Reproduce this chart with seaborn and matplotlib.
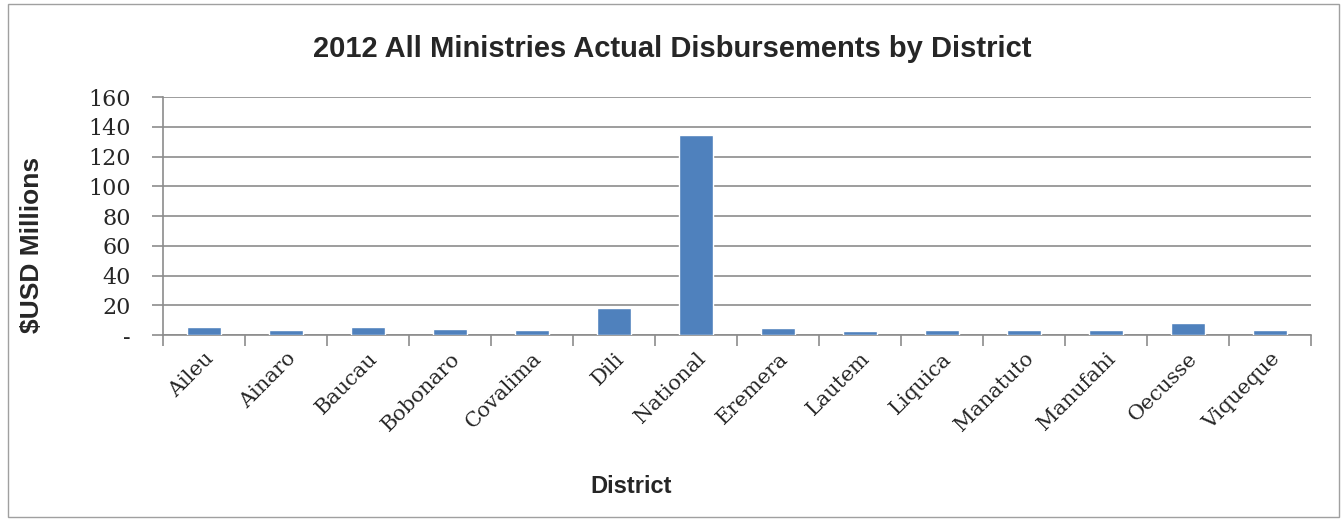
import pandas as pd
import seaborn as sns
import matplotlib.pyplot as plt
from matplotlib.patches import Rectangle

# Data ($USD millions)
districts = ['Aileu', 'Ainaro', 'Baucau', 'Bobonaro', 'Covalima', 'Dili', 'National',
             'Eremera', 'Lautem', 'Liquica', 'Manatuto', 'Manufahi', 'Oecusse', 'Viqueque']
disbursed = [5.6, 3.4, 5.4, 4.2, 3.4, 18.4, 134.5, 4.9, 2.9, 3.6, 3.6, 3.6, 8.3, 3.1]
ytick_values = [0, 20, 40, 60, 80, 100, 120, 140, 160]
ytick_labels = ['-', '20', '40', '60', '80', '100', '120', '140', '160']

data = pd.DataFrame({'District': districts, 'Value': disbursed})

sns.set_style('white')
fig = plt.figure(figsize=(13.44, 5.21), dpi=100)
ax = fig.add_axes([0.1213, 0.357, 0.8541, 0.4568])

sns.barplot(data=data, x='District', y='Value', color='#4F81BD', width=0.42,
            saturation=1, ax=ax, zorder=3)

# axes and grid
ax.set_ylim(0, 160)
ax.set_xlim(-0.5, len(districts) - 0.5)
ax.set_yticks(ytick_values)
ax.set_yticklabels(ytick_labels, family='DejaVu Serif', fontsize=16)
ax.yaxis.grid(True, color='#8c8c8c', linewidth=1.2, zorder=0)
ax.tick_params(axis='y', length=8, color='#8c8c8c', width=1.2, pad=15, left=True)
ax.set_xticks(range(len(districts)))
ax.set_xticklabels(districts, rotation=45, ha='right', rotation_mode='anchor',
                   family='DejaVu Serif', fontsize=15)
ax.tick_params(axis='x', which='major', length=0, pad=10)
ax.set_xticks([i - 0.5 for i in range(len(districts) + 1)], minor=True)
ax.tick_params(axis='x', which='minor', length=8, color='#8c8c8c', width=1.2, bottom=True)
for s in ['top', 'right']:
    ax.spines[s].set_visible(False)
for s in ['left', 'bottom']:
    ax.spines[s].set_color('#8c8c8c')
    ax.spines[s].set_linewidth(1.2)

ax.set_xlabel('District', family='Liberation Sans', fontweight='bold', fontsize=17)
ax.xaxis.set_label_coords(0.408, -0.59)
ax.set_ylabel('$USD Millions', family='Liberation Sans', fontweight='bold', fontsize=19)
ax.yaxis.set_label_coords(-0.104, 0.38)
fig.text(0.5, 0.906, '2012 All Ministries Actual Disbursements by District', ha='center',
         va='center', family='Liberation Sans', fontweight='bold', fontsize=21)

# outer chart border
fig.patches.append(Rectangle((0.006, 0.008), 0.99, 0.985, transform=fig.transFigure,
                             fill=False, edgecolor='#a0a0a0', linewidth=1))

plt.savefig('out.png', dpi=100)
